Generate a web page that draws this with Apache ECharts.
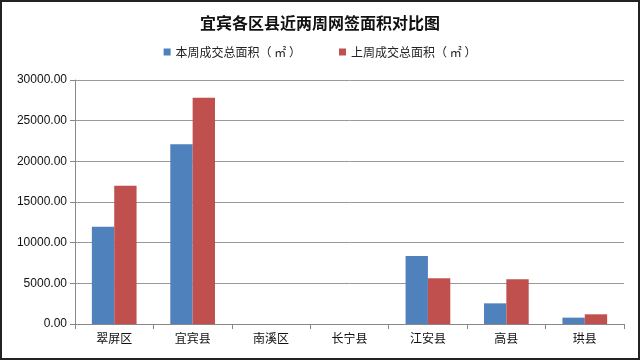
<!DOCTYPE html>
<html><head><meta charset="utf-8">
<script src="https://cdn.jsdelivr.net/npm/echarts@6/dist/echarts.min.js"></script>
<style>html,body{margin:0;padding:0;background:#fff}#c{width:640px;height:360px;box-sizing:border-box;border:2px solid #222}</style>
</head><body><div id="c"></div>
<script>
const categories = ['翠屏区','宜宾县','南溪区','长宁县','江安县','高县','珙县'];
const thisWeek = [11950, 22100, 0, 0, 8360, 2540, 780];
const lastWeek = [17000, 27830, 0, 0, 5620, 5490, 1190];
const seriesNames = ['本周成交总面积（ ㎡ ）','上周成交总面积（ ㎡ ）'];
const chart = echarts.init(document.getElementById('c'));
chart.setOption({
  animation:false,
  title:{text:'宜宾各区县近两周网签面积对比图',left:'center',top:8,
    textStyle:{fontFamily:'Noto Sans CJK SC',fontSize:16,fontWeight:'bold',color:'#111'}},
  legend:{top:39,left:'center',itemWidth:7,itemHeight:7,itemGap:38,icon:'rect',
    textStyle:{fontFamily:'Noto Sans CJK SC',fontSize:12,color:'#222'}},
  grid:{left:73,right:14,top:78,bottom:34},
  xAxis:{type:'category',data:categories,
    axisLine:{lineStyle:{color:'#888'}},
    axisTick:{show:true,length:5,lineStyle:{color:'#888'}},
    axisLabel:{fontFamily:'Noto Sans CJK SC',fontSize:12,color:'#111',margin:8}},
  yAxis:{type:'value',min:0,max:30000,interval:5000,
    axisLine:{show:true,lineStyle:{color:'#888'}},
    axisTick:{show:true,length:5,lineStyle:{color:'#888'}},
    splitLine:{lineStyle:{color:'#999'}},
    axisLabel:{formatter:v=>v.toFixed(2),fontFamily:'Liberation Sans',fontSize:12,color:'#111',margin:8}},
  series:[
    {name:seriesNames[0],type:'bar',data:thisWeek,itemStyle:{color:'#4f81bd'},barGap:'0%',barCategoryGap:'43%'},
    {name:seriesNames[1],type:'bar',data:lastWeek,itemStyle:{color:'#c0504d'},barGap:'0%',barCategoryGap:'43%'}
  ]
});
</script></body></html>
